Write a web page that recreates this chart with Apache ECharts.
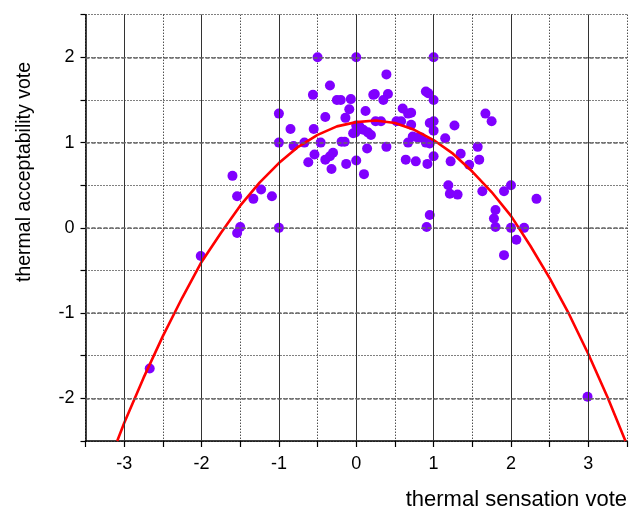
<!DOCTYPE html>
<html><head><meta charset="utf-8">
<script src="https://cdn.jsdelivr.net/npm/echarts@6/dist/echarts.min.js"></script>
<style>html,body{margin:0;padding:0;background:#fff}#c{width:630px;height:513px}</style>
</head><body><div id="c"></div>
<script>
// scatter points [thermal sensation vote, thermal acceptability vote]
var votePoints = [
[-2.67,-1.65],[-2.01,-0.33],[-1.60,0.61],[-1.54,0.37],[-1.50,0.01],[-1.54,-0.06],
[-1.33,0.34],[-1.23,0.45],[-1.09,0.37],[-1.0,0.0],[-1.0,1.34],[-1.0,1.0],
[-0.85,1.16],[-0.81,0.96],[-0.67,1.0],[-0.62,0.77],[-0.56,1.56],[-0.55,1.16],
[-0.54,0.86],[-0.50,2.0],[-0.46,1.0],[-0.40,1.30],[-0.40,0.80],[-0.34,1.67],
[-0.34,0.84],[-0.30,0.88],[-0.32,0.69],[-0.25,1.5],[-0.20,1.5],[-0.19,1.01],
[-0.15,1.01],[-0.14,1.29],[-0.13,0.75],[-0.07,1.51],[-0.09,1.39],[0.0,2.0],
[0.0,0.79],[0.0,1.20],[0.04,1.19],[-0.01,1.12],[-0.04,1.11],[0.09,1.15],
[0.15,1.12],[0.19,1.09],[0.10,0.63],[0.12,1.37],[0.14,0.93],[0.22,1.56],
[0.24,1.57],[0.25,1.25],[0.32,1.25],[0.35,1.5],[0.39,1.80],[0.41,1.57],
[0.39,0.95],[0.52,1.25],[0.58,1.25],[0.60,1.40],[0.67,1.34],[0.71,1.35],
[0.71,1.21],[0.64,0.80],[0.67,1.0],[0.73,1.07],[0.79,1.06],[0.84,1.06],
[0.77,0.78],[0.90,1.60],[0.93,1.58],[0.92,0.75],[0.90,1.0],[0.95,0.99],
[0.95,1.23],[1.0,1.25],[1.0,1.50],[1.0,2.0],[1.0,1.14],[1.0,0.84],
[0.95,0.15],[0.91,0.01],[1.15,1.05],[1.27,1.20],[1.22,0.78],[1.35,0.87],
[1.46,0.74],[1.19,0.50],[1.21,0.40],[1.31,0.39],[1.57,0.95],[1.59,0.80],
[1.63,0.43],[1.67,1.34],[1.75,1.25],[1.80,0.21],[1.78,0.11],[1.80,0.01],
[1.91,0.43],[2.0,0.50],[1.91,-0.32],[2.0,0.0],[2.07,-0.14],[2.17,0.0],
[2.33,0.34],[2.99,-1.98]
];
// fitted curve
var fitX = [-3.09,-3.0,-2.75,-2.5,-2.25,-2.0,-1.75,-1.5,-1.25,-1.0,-0.75,-0.5,-0.25,0.0,0.25,0.5,0.75,1.0,1.25,1.5,1.75,2.0,2.25,2.5,2.75,3.0,3.25,3.48];
var fitY = [-2.5,-2.29,-1.76,-1.27,-0.82,-0.40,-0.06,0.26,0.53,0.76,0.95,1.09,1.19,1.24,1.26,1.23,1.15,1.03,0.87,0.66,0.42,0.14,-0.21,-0.59,-1.01,-1.48,-1.99,-2.5];
// axis ticks
var xMajor = [-3,-2,-1,0,1,2,3];
var yMajor = [-2,-1,0,1,2];
var xTitle = 'thermal sensation vote';
var yTitle = 'thermal acceptability vote';

var fitData = fitX.map(function(x,i){return [x, fitY[i]];});
var FONT = "'Liberation Sans', Arial, sans-serif";
function intLabel(v){ return Math.abs(v - Math.round(v)) < 1e-6 ? String(Math.round(v)) : ''; }

var chart = echarts.init(document.getElementById('c'), null, {renderer:'canvas'});
chart.setOption({
  animation:false,
  backgroundColor:'#fff',
  grid:{left:85.5, right:2, top:14.7, bottom:72},
  xAxis:{type:'value', min:-3.5, max:3.5, interval:0.5,
    axisLine:{show:true, onZero:false, lineStyle:{color:'#000', width:1.5}},
    axisTick:{show:true, length:6, lineStyle:{color:'#000', width:1.2}},
    axisLabel:{margin:14, fontSize:18, color:'#000', fontFamily:FONT, formatter:intLabel, showMinLabel:true, showMaxLabel:true},
    splitLine:{show:true, lineStyle:{color:'#000', width:1, type:[1,2]}}
  },
  yAxis:{type:'value', min:-2.5, max:2.5, interval:0.5,
    axisLine:{show:true, onZero:false, lineStyle:{color:'#000', width:1.5}},
    axisTick:{show:true, length:5, lineStyle:{color:'#000', width:1.2}},
    axisLabel:{margin:11, fontSize:18, color:'#000', fontFamily:FONT, formatter:intLabel},
    splitLine:{show:true, lineStyle:{color:'#000', width:1, type:[1,2]}}
  },
  graphic:[
    {type:'text', x:627, y:500, style:{text:xTitle, font:'22px '+FONT, fill:'#000', textAlign:'right', textVerticalAlign:'middle'}},
    {type:'text', x:25, y:172, rotation:Math.PI/2, style:{text:yTitle, font:'19.5px '+FONT, fill:'#000', textAlign:'center', textVerticalAlign:'middle'}}
  ],
  series:[
    {type:'line', data:[], z:1, silent:true,
      markLine:{silent:true, symbol:['none','none'], label:{show:false}, animation:false,
        lineStyle:{color:'#333', width:1, type:'solid'},
        data:xMajor.map(function(v){return {xAxis:v};})}
    },
    {type:'line', data:[], z:1, silent:true,
      markLine:{silent:true, symbol:['none','none'], label:{show:false}, animation:false,
        lineStyle:{color:'#666', width:1.5, type:[4,2]},
        data:yMajor.map(function(v){return {yAxis:v};})}
    },
    {type:'scatter', data:votePoints, symbol:'circle', symbolSize:10, z:3,
      itemStyle:{color:'#8000ff', opacity:1}},
    {type:'line', data:fitData, smooth:false, showSymbol:false, z:4,
      lineStyle:{color:'#ff0000', width:2.6}}
  ]
});
</script></body></html>
